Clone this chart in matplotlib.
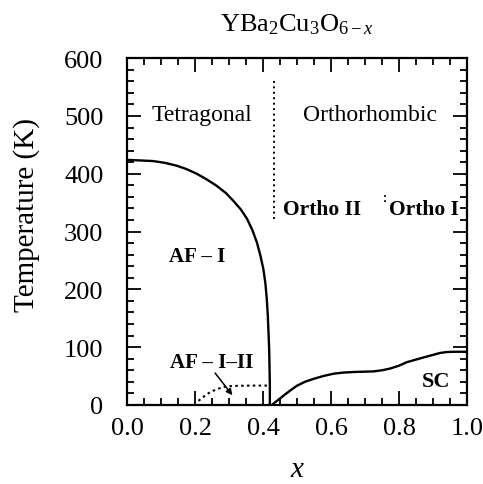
import matplotlib
matplotlib.use("Agg")
import matplotlib.pyplot as plt
from matplotlib.ticker import MultipleLocator, FormatStrFormatter

plt.rcParams['font.family'] = ['Liberation Serif', 'DejaVu Serif']
plt.rcParams['mathtext.fontset'] = 'custom'
plt.rcParams['mathtext.rm'] = 'Liberation Serif'
plt.rcParams['mathtext.it'] = 'Liberation Serif:italic'

# AF-I Neel temperature boundary
af_x = [0.0, 0.04, 0.076, 0.11, 0.146, 0.175, 0.205, 0.235, 0.264, 0.29, 0.313,
        0.335, 0.353, 0.369, 0.382, 0.392, 0.401, 0.407, 0.411, 0.414, 0.416,
        0.418, 0.419, 0.42, 0.42]
af_t = [424, 423, 422, 419, 414, 408, 400, 390, 379, 367, 353,
        338, 322, 302, 281, 259, 235, 210, 183, 155, 126,
        97, 68, 35, 0]

# superconducting Tc
sc_x = [0.43, 0.445, 0.46, 0.48, 0.499, 0.523, 0.548, 0.577, 0.607, 0.636, 0.666,
        0.695, 0.724, 0.75, 0.774, 0.80, 0.823, 0.847, 0.871, 0.896, 0.921,
        0.94, 0.96, 0.98, 1.0]
sc_t = [2, 9, 16, 25, 33, 40, 45, 50, 54, 56, 57,
        57.5, 58, 60, 63, 68, 74, 78, 82, 86, 90,
        91.5, 92, 92, 92]

# AF-I-II dotted boundary
af2_x = [0.21, 0.227, 0.244, 0.263, 0.283, 0.302, 0.322, 0.36, 0.40, 0.415]
af2_t = [7, 15, 22, 27, 31, 32.5, 33, 33.5, 33.5, 33.5]

# structural boundaries (dotted)
tetra_x = [0.433, 0.433]
tetra_t = [322, 562]
ortho_x = [0.759, 0.759]
ortho_t = [352, 366]

fig = plt.figure(figsize=(4.83, 4.85), dpi=100)
ax = fig.add_axes([0.263, 0.163, 0.704, 0.715])

ax.plot(af_x, af_t, color='black', lw=1.7)
ax.plot(sc_x, sc_t, color='black', lw=1.7)
ax.plot(af2_x, af2_t, color='black', lw=1.5, ls=(0, (1.2, 1.6)))
ax.plot(tetra_x, tetra_t, color='black', lw=1.4, ls=(0, (1, 1.8)))
ax.plot(ortho_x, ortho_t, color='black', lw=1.3, ls=(0, (1, 1.8)))

ax.annotate('', xy=(0.315, 13), xytext=(0.254, 59),
            arrowprops=dict(arrowstyle='-|>', color='black', lw=1.1,
                            mutation_scale=9))

ax.text(0.22, 503, 'Tetragonal', ha='center', va='center', fontsize=17)
ax.text(0.715, 503, 'Orthorhombic', ha='center', va='center', fontsize=17)
ax.text(0.574, 339, 'Ortho II', ha='center', va='center', fontsize=15.5,
        fontweight='bold')
ax.text(0.873, 339, 'Ortho I', ha='center', va='center', fontsize=15.5,
        fontweight='bold')
ax.text(0.207, 258, 'AF \u2013 I', ha='center', va='center', fontsize=15,
        fontweight='bold')
ax.text(0.25, 75, 'AF \u2013 I\u2013II', ha='center', va='center', fontsize=15,
        fontweight='bold')
ax.text(0.91, 42, 'SC', ha='center', va='center', fontsize=16,
        fontweight='bold')

ax.set_xlim(0, 1)
ax.set_ylim(0, 600)
ax.xaxis.set_major_locator(MultipleLocator(0.2))
ax.xaxis.set_minor_locator(MultipleLocator(0.05))
ax.yaxis.set_major_locator(MultipleLocator(100))
ax.yaxis.set_minor_locator(MultipleLocator(20))
ax.xaxis.set_major_formatter(FormatStrFormatter('%.1f'))
ax.tick_params(which='both', direction='in', top=True, right=True, width=1.3)
ax.tick_params(which='major', length=10, labelsize=19)
ax.tick_params(which='minor', length=5)
ax.tick_params(axis='y', which='major', pad=17)
ax.tick_params(axis='x', which='major', pad=9)
for s in ax.spines.values():
    s.set_linewidth(1.6)

ax.set_ylabel('Temperature (K)', fontsize=21)
ax.yaxis.set_label_coords(-0.255, 0.55)
ax.set_xlabel('$x$', fontsize=21, labelpad=12)
ax.set_title('YBa$_2$Cu$_3$O$_{6-x}$', fontsize=19, pad=20)

fig.savefig('out.png', dpi=100)
